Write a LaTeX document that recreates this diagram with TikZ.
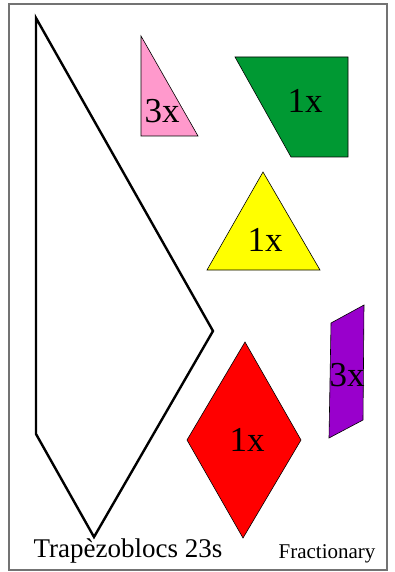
\documentclass[tikz,border=0pt]{standalone}
\usepackage{fontspec}
\setmainfont{Liberation Serif}
\definecolor{pinkc}{HTML}{FF99CC}
\definecolor{greenc}{HTML}{009933}
\definecolor{yellowc}{HTML}{FFFF00}
\definecolor{redc}{HTML}{FF0000}
\definecolor{purplec}{HTML}{9900CC}
\begin{document}
\begin{tikzpicture}[x=1pt,y=-1pt,
  piece/.style={draw=black,line width=0.6pt,line join=miter},
  biglabel/.style={font=\fontsize{35}{35}\selectfont,inner sep=0pt}]
\useasboundingbox (0,0) rectangle (395,572);
\draw[draw=gray!90!black,line width=1.3pt] (9,4) rectangle (387,570);
% big outline
\draw[line width=2.4pt,line join=miter] (36,18) -- (213,331) -- (94,537) -- (36,434) -- cycle;
% pink triangle
\fill[pinkc,piece] (141,36) -- (198,136) -- (141,136) -- cycle;
\node[biglabel] (l1) at (162,111) {3x};
% green trapezoid
\fill[greenc,piece] (235,57) -- (348,57) -- (348,157) -- (291,157) -- cycle;
\node[biglabel] (l2) at (305,101) {1x};
% yellow triangle
\fill[yellowc,piece] (263,172) -- (320,270) -- (207,270) -- cycle;
\node[biglabel] (l3) at (265,240) {1x};
% red rhombus
\fill[redc,piece] (245,342) -- (301,440) -- (243,538) -- (187,440) -- cycle;
\node[biglabel] (l4) at (247,440) {1x};
% purple parallelogram
\fill[purplec,piece] (331,323) -- (364,305) -- (363,420) -- (329,438) -- cycle;
\node[biglabel] (l5) at (347,375) {3x};
% texts
\node[font=\fontsize{27}{27}\selectfont,inner sep=0pt,anchor=base] (t1) at (128,557) {Trapèzoblocs 23s};
\node[font=\fontsize{21}{21}\selectfont,inner sep=0pt,anchor=base] (t2) at (327,558) {Fractionary};
\end{tikzpicture}
\end{document}
